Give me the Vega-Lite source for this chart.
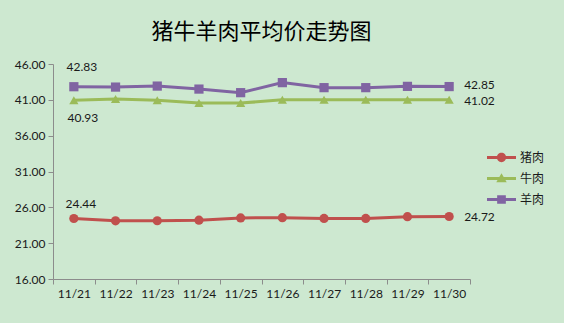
{
  "$schema": "https://vega.github.io/schema/vega-lite/v6.json",
  "autosize": "none",
  "width": 417,
  "height": 215,
  "padding": {"left": 53, "top": 64, "right": 94, "bottom": 44},
  "background": "#cde8d0",
  "title": {
    "text": "猪牛羊肉平均价走势图",
    "font": "Noto Sans CJK SC",
    "fontSize": 22,
    "fontWeight": "normal",
    "color": "#000000",
    "anchor": "middle",
    "offset": 14
  },
  "config": {
    "view": {"stroke": null},
    "axis": {
      "labelFont": "Lato",
      "labelFontSize": 12,
      "labelColor": "#1a1a1a",
      "domainColor": "#8c8c8c",
      "tickColor": "#8c8c8c",
      "tickSize": 5,
      "grid": false,
      "title": null
    },
    "legend": {
      "labelFont": "Noto Sans CJK SC",
      "labelFontSize": 12,
      "labelColor": "#1a1a1a"
    }
  },
  "data": {
    "values": [
      {"date": "11/21", "series": "猪肉", "price": 24.44},
      {"date": "11/22", "series": "猪肉", "price": 24.12},
      {"date": "11/23", "series": "猪肉", "price": 24.13},
      {"date": "11/24", "series": "猪肉", "price": 24.2},
      {"date": "11/25", "series": "猪肉", "price": 24.52},
      {"date": "11/26", "series": "猪肉", "price": 24.55},
      {"date": "11/27", "series": "猪肉", "price": 24.45},
      {"date": "11/28", "series": "猪肉", "price": 24.45},
      {"date": "11/29", "series": "猪肉", "price": 24.7},
      {"date": "11/30", "series": "猪肉", "price": 24.72},
      {"date": "11/21", "series": "牛肉", "price": 40.93},
      {"date": "11/22", "series": "牛肉", "price": 41.12},
      {"date": "11/23", "series": "牛肉", "price": 40.95},
      {"date": "11/24", "series": "牛肉", "price": 40.55},
      {"date": "11/25", "series": "牛肉", "price": 40.55},
      {"date": "11/26", "series": "牛肉", "price": 41.0},
      {"date": "11/27", "series": "牛肉", "price": 41.0},
      {"date": "11/28", "series": "牛肉", "price": 41.0},
      {"date": "11/29", "series": "牛肉", "price": 41.0},
      {"date": "11/30", "series": "牛肉", "price": 41.02},
      {"date": "11/21", "series": "羊肉", "price": 42.83},
      {"date": "11/22", "series": "羊肉", "price": 42.78},
      {"date": "11/23", "series": "羊肉", "price": 42.92},
      {"date": "11/24", "series": "羊肉", "price": 42.5},
      {"date": "11/25", "series": "羊肉", "price": 42.0},
      {"date": "11/26", "series": "羊肉", "price": 43.4},
      {"date": "11/27", "series": "羊肉", "price": 42.7},
      {"date": "11/28", "series": "羊肉", "price": 42.7},
      {"date": "11/29", "series": "羊肉", "price": 42.88},
      {"date": "11/30", "series": "羊肉", "price": 42.85}
    ]
  },
  "encoding": {
    "x": {
      "field": "date",
      "type": "ordinal",
      "scale": {"paddingInner": 0, "paddingOuter": 0},
      "axis": {"labelAngle": 0, "tickBand": "extent", "labelPadding": 4}
    },
    "y": {
      "field": "price",
      "type": "quantitative",
      "scale": {"domain": [16, 46], "nice": false, "zero": false},
      "axis": {"values": [16, 21, 26, 31, 36, 41, 46], "format": ".2f", "labelPadding": 3}
    }
  },
  "layer": [
    {
      "mark": {"type": "line", "strokeWidth": 3},
      "encoding": {
        "color": {
          "field": "series",
          "type": "nominal",
          "scale": {"domain": ["猪肉", "牛肉", "羊肉"], "range": ["#c0504d", "#9bbb59", "#8064a2"]},
          "legend": {
            "title": null,
            "orient": "none",
            "legendX": 434,
            "legendY": 79,
            "symbolSize": 841,
            "symbolStrokeWidth": 0,
            "symbolOpacity": 1,
            "labelOffset": 4,
            "rowPadding": -9
          }
        }
      }
    },
    {
      "transform": [{"filter": "false"}],
      "mark": {"type": "point", "filled": true, "opacity": 1, "strokeWidth": 0},
      "encoding": {
        "color": {"field": "series", "type": "nominal"},
        "shape": {
          "field": "series",
          "type": "nominal",
          "scale": {
            "domain": ["猪肉", "牛肉", "羊肉"],
            "range": [
              "M-1,-0.1H1V0.1H-1Z M-0.32,0A0.32,0.32 0 1,1 0.32,0A0.32,0.32 0 1,1 -0.32,0Z",
              "M-1,-0.1H1V0.1H-1Z M0,-0.36L0.36,0.26H-0.36Z",
              "M-1,-0.1H1V0.1H-1Z M-0.3,-0.3H0.3V0.3H-0.3Z"
            ]
          }
        }
      }
    },
    {
      "transform": [{"filter": "datum.series === '猪肉'"}],
      "mark": {"type": "point", "filled": true, "size": 85, "opacity": 1, "shape": "circle", "color": "#c0504d"}
    },
    {
      "transform": [{"filter": "datum.series === '牛肉'"}],
      "mark": {"type": "point", "filled": true, "size": 85, "opacity": 1, "shape": "triangle-up", "color": "#9bbb59"}
    },
    {
      "transform": [{"filter": "datum.series === '羊肉'"}],
      "mark": {"type": "point", "filled": true, "size": 85, "opacity": 1, "shape": "square", "color": "#8064a2"}
    },
    {
      "transform": [{"filter": "datum.date === '11/21' && datum.series === '羊肉'"}],
      "mark": {"type": "text", "font": "Lato", "fontSize": 12, "dx": 8, "dy": -20},
      "encoding": {"text": {"field": "price", "type": "quantitative", "format": ".2f"}, "color": {"value": "#1a1a1a"}}
    },
    {
      "transform": [{"filter": "datum.date === '11/21' && datum.series === '牛肉'"}],
      "mark": {"type": "text", "font": "Lato", "fontSize": 12, "dx": 9, "dy": 18},
      "encoding": {"text": {"field": "price", "type": "quantitative", "format": ".2f"}, "color": {"value": "#1a1a1a"}}
    },
    {
      "transform": [{"filter": "datum.date === '11/21' && datum.series === '猪肉'"}],
      "mark": {"type": "text", "font": "Lato", "fontSize": 12, "dx": 7, "dy": -15},
      "encoding": {"text": {"field": "price", "type": "quantitative", "format": ".2f"}, "color": {"value": "#1a1a1a"}}
    },
    {
      "transform": [{"filter": "datum.date === '11/30' && datum.series === '羊肉'"}],
      "mark": {"type": "text", "font": "Lato", "fontSize": 12, "align": "left", "dx": 15, "dy": -1.5},
      "encoding": {"text": {"field": "price", "type": "quantitative", "format": ".2f"}, "color": {"value": "#1a1a1a"}}
    },
    {
      "transform": [{"filter": "datum.date === '11/30' && datum.series === '牛肉'"}],
      "mark": {"type": "text", "font": "Lato", "fontSize": 12, "align": "left", "dx": 15, "dy": 1.5},
      "encoding": {"text": {"field": "price", "type": "quantitative", "format": ".2f"}, "color": {"value": "#1a1a1a"}}
    },
    {
      "transform": [{"filter": "datum.date === '11/30' && datum.series === '猪肉'"}],
      "mark": {"type": "text", "font": "Lato", "fontSize": 12, "align": "left", "dx": 15},
      "encoding": {"text": {"field": "price", "type": "quantitative", "format": ".2f"}, "color": {"value": "#1a1a1a"}}
    }
  ]
}
